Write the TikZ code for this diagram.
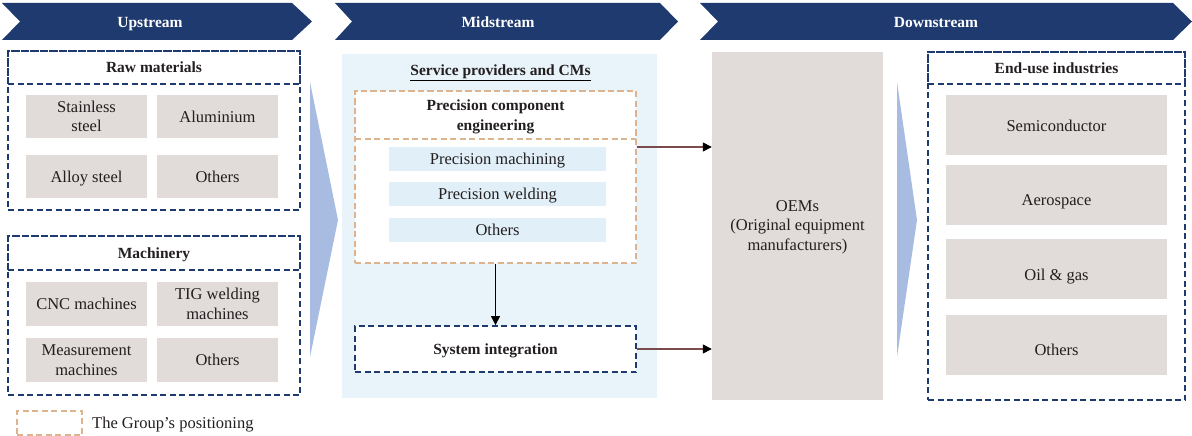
\documentclass[tikz,border=0pt]{standalone}
\usepackage{fontspec}
\setmainfont{Liberation Serif}
\usetikzlibrary{arrows.meta}
\definecolor{navy}{HTML}{1F3A6E}
\definecolor{grayfill}{HTML}{E1DCD9}
\definecolor{panelblue}{HTML}{E9F3FA}
\definecolor{itemblue}{HTML}{E1EFF8}
\definecolor{triblue}{HTML}{A8BCE1}
\definecolor{orangedash}{HTML}{DDB48E}
\definecolor{arrowred}{HTML}{7B4A4A}
\definecolor{txt}{HTML}{231F20}
\tikzset{
  banner/.style={fill=navy},
  bannertext/.style={text=white, anchor=base, inner sep=0pt, font=\bfseries\fontsize{15.5}{18}\selectfont},
  bluedash/.style={draw=navy, line width=1.8pt, dash pattern=on 6pt off 3.5pt},
  orangebox/.style={draw=orangedash, line width=1.6pt, dash pattern=on 6pt off 3.5pt},
  hdrtext/.style={text=txt, align=center, font=\bfseries\fontsize{15.5}{19.5}\selectfont},
  grayitem/.style={fill=grayfill, text=txt, align=center, inner sep=0pt, font=\fontsize{16.5}{19.5}\selectfont},
  blueitem/.style={fill=itemblue, text=txt, align=center, inner sep=0pt, font=\fontsize{16.5}{19.5}\selectfont},
  plaintext/.style={text=txt, align=center, font=\fontsize{16.5}{19.5}\selectfont},
  oneline/.style={text height=12.5pt, text depth=1.5pt},
  tri/.style={fill=triblue},
  flowarrow/.style={draw=arrowred, line width=1.4pt, -{Triangle[length=9pt,width=9pt,black]}},
  downarrow/.style={draw=black, line width=1pt, -{Triangle[length=9pt,width=9pt,black]}}
}
\begin{document}
\begin{tikzpicture}[x=1pt,y=-1pt]
\useasboundingbox (0,0) rectangle (1192,436);

% banners
\fill[banner] (2,3) -- (292,3) -- (312,21.5) -- (292,40) -- (2,40) -- (20,21.5) -- cycle;
\node[bannertext] (up) at (150,28) {Upstream};
\fill[banner] (335,3) -- (660,3) -- (678,21.5) -- (660,40) -- (335,40) -- (352,21.5) -- cycle;
\node[bannertext] (mid) at (498,28) {Midstream};
\fill[banner] (700,3) -- (1173,3) -- (1192,21.5) -- (1173,40) -- (700,40) -- (718,21.5) -- cycle;
\node[bannertext] (down) at (936,28) {Downstream};

% triangles
\fill[tri] (310,82) -- (338,220) -- (310,357) -- cycle;
\fill[tri] (897,82) -- (917,220) -- (897,357) -- cycle;

% Raw materials
\node[bluedash, minimum width=292pt, minimum height=159pt, inner sep=0pt] (rm) at (154,130.5) {};
\node[bluedash, hdrtext, oneline, minimum width=292pt, minimum height=33pt, inner sep=0pt] (rmh) at (154,67.5) {Raw materials};
\node[grayitem, minimum width=121pt, minimum height=43pt] (ss) at (86.5,116.5) {Stainless\\steel};
\node[grayitem, oneline, minimum width=121pt, minimum height=43pt] (al) at (217.5,116.5) {Aluminium};
\node[grayitem, oneline, minimum width=121pt, minimum height=43pt] (as) at (86.5,176.5) {Alloy steel};
\node[grayitem, oneline, minimum width=121pt, minimum height=43pt] (ot1) at (217.5,176.5) {Others};

% Machinery
\node[bluedash, minimum width=292pt, minimum height=159pt, inner sep=0pt] (mc) at (154,315.5) {};
\node[bluedash, hdrtext, oneline, minimum width=292pt, minimum height=34pt, inner sep=0pt] (mch) at (154,253) {Machinery};
\node[grayitem, oneline, minimum width=121pt, minimum height=44pt] (cnc) at (86.5,304) {CNC machines};
\node[grayitem, minimum width=121pt, minimum height=44pt] (tig) at (217.5,304) {TIG welding\\machines};
\node[grayitem, minimum width=121pt, minimum height=44pt] (meas) at (86.5,360) {Measurement\\machines};
\node[grayitem, oneline, minimum width=121pt, minimum height=44pt] (ot2) at (217.5,360) {Others};

% legend
\node[orangebox, minimum width=65pt, minimum height=24pt, inner sep=0pt] (leg) at (49.5,423) {};
\node[plaintext, oneline, anchor=west, inner sep=0pt] (legt) at (92,423) {The Group’s positioning};

% Midstream panel
\node[fill=panelblue, minimum width=315pt, minimum height=344pt, inner sep=0pt] (panel) at (499.5,226) {};
\node[hdrtext, oneline, inner sep=0pt] (spt) at (500.5,70) {Service providers and CMs};
\coordinate (ul1) at (0,81);
\draw[black, line width=1pt] (spt.west |- ul1) -- (spt.east |- ul1);

\node[orangebox, fill=white, minimum width=281pt, minimum height=172pt, inner sep=0pt] (pce) at (495.5,177) {};
\node[orangebox, minimum width=281pt, minimum height=48pt, inner sep=0pt] (pceh) at (495.5,115) {};
\node[hdrtext, inner sep=0pt] (pcet) at (495.5,117) {Precision component\\engineering};
\node[blueitem, oneline, minimum width=217pt, minimum height=24pt] (pm) at (497.5,159) {Precision machining};
\node[blueitem, oneline, minimum width=217pt, minimum height=24pt] (pw) at (497.5,194) {Precision welding};
\node[blueitem, oneline, minimum width=217pt, minimum height=24pt] (ot3) at (497.5,230) {Others};

\node[bluedash, fill=white, hdrtext, oneline, minimum width=281pt, minimum height=46pt, inner sep=0pt] (si) at (495.5,349) {System integration};

% OEMs
\node[fill=grayfill, plaintext, minimum width=171pt, minimum height=348pt, inner sep=0pt] (oem) at (797.5,226) {};
\node[plaintext, inner sep=0pt] (oemt) at (797.5,227) {OEMs\\(Original equipment\\manufacturers)};

% End-use industries
\node[bluedash, minimum width=257pt, minimum height=348pt, inner sep=0pt] (eu) at (1056.5,226) {};
\node[bluedash, hdrtext, oneline, minimum width=257pt, minimum height=32pt, inner sep=0pt] (euh) at (1056.5,68) {End-use industries};
\node[grayitem, minimum width=221pt, minimum height=60pt] (semi) at (1056.5,125) {};
\node[plaintext, oneline, inner sep=0pt] (semit) at (1056.5,126) {Semiconductor};
\node[grayitem, minimum width=221pt, minimum height=60pt] (aero) at (1056.5,195) {};
\node[plaintext, oneline, inner sep=0pt] (aerot) at (1056.5,200) {Aerospace};
\node[grayitem, minimum width=221pt, minimum height=60pt] (oil) at (1056.5,269) {};
\node[plaintext, oneline, inner sep=0pt] (oilt) at (1056.5,275) {Oil \& gas};
\node[grayitem, minimum width=221pt, minimum height=60pt] (ot4) at (1056.5,345) {};
\node[plaintext, oneline, inner sep=0pt] (ot4t) at (1056.5,350) {Others};

% connectors
\coordinate (a1) at (0,147);
\draw[flowarrow] (pce.east |- a1) -- (oem.west |- a1);
\draw[flowarrow] (si.east) -- (si.east -| oem.west);
\draw[downarrow] (pce.south) -- (si.north);
\end{tikzpicture}
\end{document}
